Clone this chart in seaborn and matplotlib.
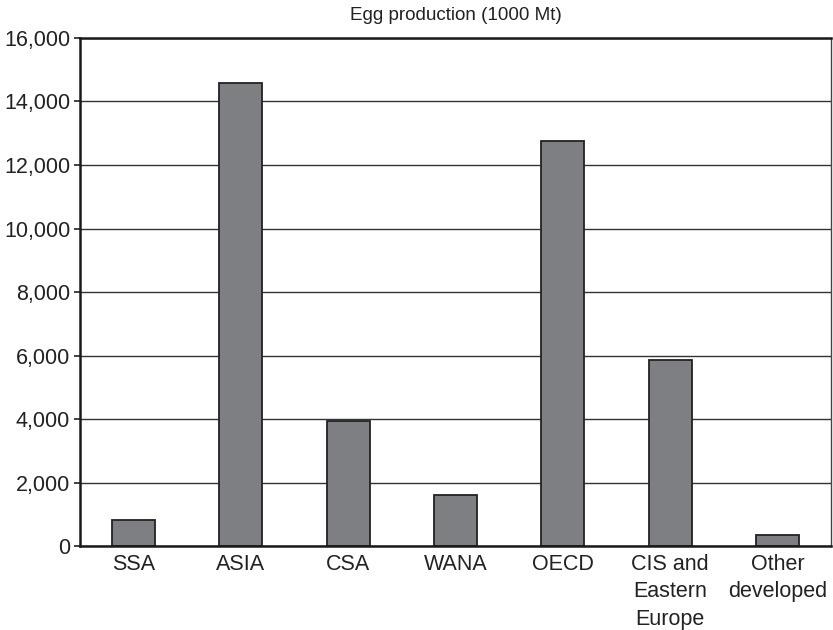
import matplotlib
matplotlib.use("Agg")
import matplotlib.pyplot as plt
import matplotlib.ticker as mticker
import seaborn as sns
import pandas as pd

# datos
regions = ["SSA", "ASIA", "CSA", "WANA", "OECD",
           "CIS and\nEastern\nEurope", "Other\ndeveloped"]
egg_production = [820, 14580, 3950, 1600, 12760, 5860, 340]

df = pd.DataFrame({"region": regions, "production": egg_production})

sns.set_style("white")
plt.rcParams['font.family'] = ['Liberation Sans', 'DejaVu Sans']

fig = plt.figure(figsize=(8.33, 6.3), dpi=100)
ax = fig.add_axes([0.096, 0.1333, 0.9016, 0.8064])

sns.barplot(data=df, x="region", y="production", color="#7e7f83",
            saturation=1, width=0.4, edgecolor="#222222", linewidth=1.3, ax=ax)

ax.set_ylim(0, 16000)
ax.set_xlim(-0.5, len(regions) - 0.5)
ax.yaxis.set_major_locator(mticker.MultipleLocator(2000))
ax.yaxis.set_major_formatter(mticker.StrMethodFormatter("{x:,.0f}"))
ax.grid(axis="y", color="#333333", linewidth=1.0)
ax.set_axisbelow(True)

# marcas entre categorias
ax.set_xticks([i + 0.5 for i in range(-1, len(regions))], minor=True)
ax.tick_params(axis="x", which="major", length=0, labelsize=15.5, pad=6,
               colors="#222222")
ax.tick_params(axis="x", which="minor", length=5, width=1.2, direction="out",
               color="#222222")
ax.tick_params(axis="y", length=4, width=1.2, direction="out", left=True,
               labelsize=15.5, colors="#222222", pad=3)
for lbl in ax.get_xticklabels():
    lbl.set_linespacing(1.38)

for side in ["left", "bottom", "top"]:
    ax.spines[side].set_color("#1a1a1a")
    ax.spines[side].set_linewidth(1.8)
ax.spines["right"].set_color("#444444")
ax.spines["right"].set_linewidth(1.0)

ax.set_xlabel("")
ax.set_ylabel("")
ax.set_title("Egg production (1000 Mt)", fontsize=13.6, color="#222222", pad=13)

plt.savefig("out.png", dpi=100)
